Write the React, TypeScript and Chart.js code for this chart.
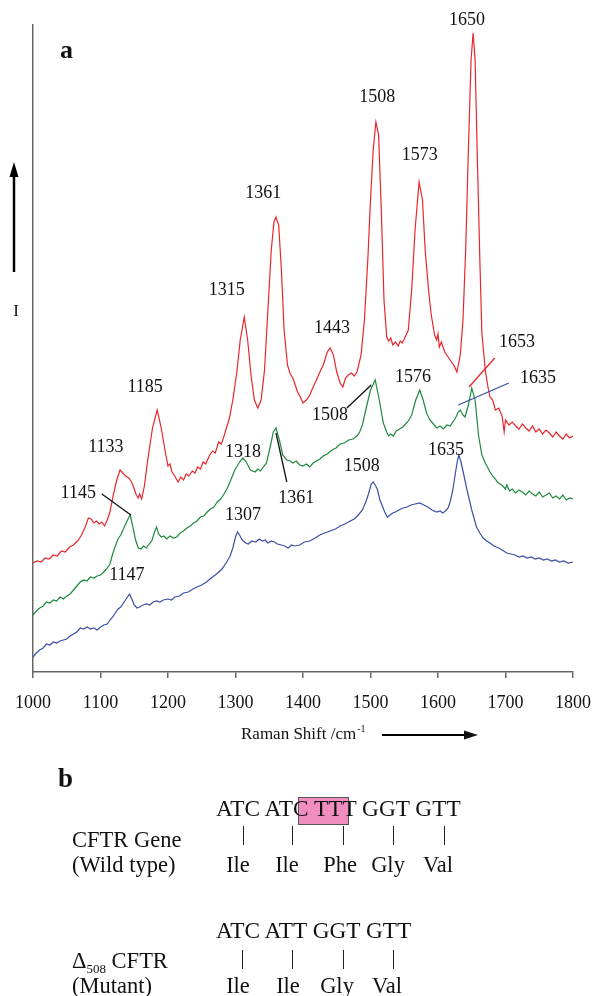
import React, { useEffect, useRef } from "react";
import { Chart, registerables } from "chart.js";

Chart.register(...registerables);

const FONT = '"Liberation Serif", "Times New Roman", serif';

const xTicks = [1000, 1100, 1200, 1300, 1400, 1500, 1600, 1700, 1800];

const redWave = [1000, 1006, 1012, 1018, 1024, 1030, 1036, 1042, 1048, 1054, 1060, 1066, 1072, 1078, 1082, 1086, 1090, 1094, 1098, 1102, 1106, 1110, 1114, 1118, 1124, 1129, 1133, 1137, 1142, 1146, 1150, 1153, 1156, 1158, 1161, 1165, 1170, 1177, 1184, 1190, 1196, 1200, 1203, 1206, 1210, 1215, 1219, 1223, 1227, 1231, 1236, 1240, 1244, 1248, 1252, 1256, 1261, 1266, 1270, 1275, 1279, 1283, 1287, 1291, 1296, 1302, 1307, 1313, 1318, 1323, 1328, 1333, 1338, 1343, 1348, 1353, 1357, 1360, 1364, 1368, 1372, 1377, 1381, 1385, 1389, 1392, 1396, 1400, 1405, 1410, 1415, 1420, 1425, 1430, 1436, 1440, 1445, 1450, 1455, 1459, 1463, 1467, 1472, 1476, 1480, 1486, 1491, 1496, 1500, 1504, 1508, 1512, 1516, 1520, 1524, 1527, 1530, 1533, 1537, 1541, 1544, 1547, 1550, 1556, 1561, 1566, 1572, 1577, 1581, 1586, 1590, 1595, 1598, 1600, 1602, 1605, 1610, 1614, 1618, 1624, 1628, 1633, 1637, 1641, 1645, 1649, 1652, 1655, 1658, 1662, 1665, 1670, 1674, 1677, 1681, 1685, 1690, 1695, 1698, 1700, 1705, 1710, 1715, 1720, 1725, 1730, 1735, 1740, 1745, 1750, 1755, 1760, 1765, 1770, 1775, 1780, 1785, 1790, 1795, 1800];
const redInt = [109, 111, 110, 114, 113, 117, 116, 121, 120, 125, 127, 131, 137, 146, 154, 153, 149, 151, 148, 150, 146, 152, 160, 174, 192, 202, 199, 196, 194, 190, 183, 177, 174, 178, 173, 186, 212, 244, 262, 244, 220, 206, 208, 200, 196, 190, 195, 192, 198, 196, 201, 199, 205, 203, 210, 208, 216, 221, 219, 230, 228, 236, 245, 254, 272, 300, 332, 355, 332, 297, 272, 264, 272, 302, 362, 422, 450, 455, 447, 402, 342, 307, 298, 294, 286, 280, 275, 269, 272, 277, 285, 292, 300, 307, 320, 324, 317, 300, 289, 285, 294, 297, 299, 296, 300, 317, 352, 412, 472, 522, 550, 537, 462, 372, 335, 331, 334, 327, 330, 326, 331, 329, 333, 342, 382, 442, 490, 472, 422, 382, 357, 337, 332, 338, 325, 330, 320, 316, 312, 306, 300, 317, 352, 422, 522, 612, 639, 612, 522, 412, 339, 302, 285, 275, 272, 262, 264, 256, 240, 252, 247, 250, 246, 243, 248, 244, 241, 246, 240, 243, 238, 242, 239, 235, 240, 236, 233, 238, 234, 236];

const greenWave = [1000, 1005, 1010, 1015, 1020, 1025, 1030, 1035, 1040, 1045, 1050, 1055, 1060, 1065, 1070, 1075, 1080, 1085, 1090, 1095, 1100, 1105, 1110, 1114, 1118, 1122, 1126, 1130, 1136, 1140, 1144, 1148, 1152, 1156, 1160, 1164, 1168, 1172, 1176, 1180, 1183, 1186, 1190, 1194, 1198, 1203, 1208, 1213, 1218, 1223, 1228, 1233, 1238, 1243, 1248, 1253, 1258, 1263, 1268, 1273, 1278, 1283, 1288, 1293, 1299, 1306, 1311, 1316, 1322, 1329, 1333, 1337, 1341, 1346, 1352, 1356, 1360, 1365, 1370, 1376, 1381, 1385, 1390, 1395, 1400, 1405, 1410, 1415, 1420, 1425, 1430, 1436, 1443, 1449, 1455, 1461, 1468, 1474, 1480, 1484, 1488, 1494, 1500, 1507, 1513, 1519, 1524, 1527, 1530, 1534, 1538, 1543, 1548, 1552, 1556, 1561, 1567, 1573, 1578, 1583, 1588, 1592, 1598, 1603, 1608, 1613, 1618, 1622, 1626, 1630, 1633, 1637, 1640, 1645, 1650, 1655, 1660, 1665, 1670, 1674, 1677, 1681, 1685, 1688, 1692, 1696, 1700, 1702, 1706, 1710, 1715, 1720, 1725, 1730, 1735, 1740, 1745, 1750, 1755, 1760, 1765, 1770, 1775, 1780, 1785, 1790, 1795, 1800];
const greenInt = [57, 61, 64, 66, 70, 69, 72, 71, 75, 73, 76, 78, 82, 86, 90, 92, 91, 95, 94, 96, 97, 100, 104, 108, 118, 126, 133, 137, 146, 152, 157, 145, 132, 124, 123, 126, 124, 128, 131, 140, 145, 138, 135, 136, 133, 136, 134, 135, 139, 141, 144, 146, 149, 151, 155, 156, 160, 163, 165, 170, 173, 178, 184, 192, 202, 210, 214, 210, 202, 200, 203, 201, 205, 209, 227, 240, 244, 232, 217, 212, 211, 209, 211, 207, 206, 208, 205, 209, 211, 213, 216, 218, 222, 224, 228, 229, 232, 233, 236, 240, 247, 265, 282, 292, 272, 249, 240, 236, 238, 236, 241, 243, 245, 248, 251, 257, 272, 282, 272, 259, 252, 249, 244, 246, 243, 247, 246, 250, 254, 260, 262, 257, 255, 267, 284, 272, 237, 217, 209, 204, 200, 196, 193, 190, 188, 186, 183, 187, 181, 183, 179, 182, 180, 177, 181, 178, 176, 180, 175, 177, 179, 174, 176, 173, 177, 172, 174, 173];

const blueWave = [1000, 1005, 1010, 1015, 1020, 1025, 1030, 1035, 1040, 1045, 1050, 1055, 1060, 1065, 1070, 1075, 1080, 1085, 1090, 1095, 1100, 1105, 1110, 1114, 1118, 1122, 1126, 1130, 1135, 1139, 1143, 1147, 1150, 1154, 1158, 1163, 1168, 1173, 1178, 1183, 1188, 1193, 1200, 1205, 1210, 1217, 1223, 1230, 1237, 1243, 1250, 1257, 1264, 1272, 1280, 1287, 1292, 1296, 1300, 1303, 1306, 1310, 1315, 1319, 1324, 1330, 1335, 1340, 1344, 1348, 1353, 1358, 1362, 1368, 1373, 1378, 1383, 1388, 1395, 1402, 1410, 1418, 1425, 1432, 1440, 1448, 1455, 1462, 1470, 1476, 1482, 1488, 1493, 1497, 1501, 1504, 1507, 1510, 1514, 1517, 1521, 1525, 1529, 1533, 1537, 1542, 1548, 1554, 1560, 1566, 1573, 1579, 1585, 1591, 1598, 1603, 1607, 1611, 1615, 1618, 1622, 1626, 1629, 1631, 1634, 1637, 1643, 1650, 1657, 1662, 1667, 1672, 1677, 1683, 1690, 1695, 1702, 1708, 1714, 1720, 1726, 1732, 1738, 1744, 1750, 1756, 1762, 1768, 1774, 1780, 1786, 1793, 1800];
const blueInt = [15, 19, 22, 24, 28, 27, 30, 29, 31, 32, 33, 36, 38, 40, 44, 43, 45, 43, 44, 42, 45, 47, 48, 52, 55, 59, 63, 65, 70, 74, 78, 72, 67, 64, 65, 67, 68, 67, 70, 71, 70, 72, 73, 72, 75, 76, 79, 80, 83, 85, 87, 90, 94, 98, 103, 110, 116, 124, 135, 140, 137, 132, 129, 128, 131, 130, 133, 131, 132, 129, 131, 130, 128, 127, 126, 124, 127, 126, 127, 130, 131, 134, 137, 139, 141, 143, 146, 148, 151, 153, 157, 162, 170, 178, 188, 190, 187, 183, 172, 167, 160, 155, 157, 159, 160, 162, 164, 165, 167, 168, 169, 167, 165, 162, 160, 161, 159, 161, 164, 170, 182, 200, 212, 217, 210, 201, 182, 162, 145, 139, 134, 131, 129, 126, 124, 122, 119, 118, 117, 115, 116, 114, 115, 113, 114, 112, 113, 111, 112, 110, 111, 109, 110];

// peak labels (text, wavenumber, intensity)
const peakText = ["1650", "1508", "1573", "1361", "1315", "1443", "1653", "1185", "1133", "1145", "1318", "1361", "1508", "1576", "1635", "1508", "1635", "1307", "1147"];
const peakX = [1643, 1510, 1573, 1341, 1287, 1443, 1717, 1166, 1108, 1067, 1311, 1390, 1440, 1563, 1748, 1487, 1612, 1311, 1139];
const peakY = [652, 575, 517, 479, 382, 344, 330, 285, 225, 179, 220, 174, 257, 295, 294, 206, 222, 157, 97];

// leader lines (x1, y1, x2, y2 in data units)
const leadX1 = [1102, 1360, 1465, 1646, 1630];
const leadY1 = [178, 239, 264, 285, 267];
const leadX2 = [1145, 1376, 1501, 1684, 1705];
const leadY2 = [157, 190, 287, 314, 289];
const leadColor = ["#111", "#111", "#111", "#e8262c", "#3b4fa8"];

const RED = "#e8262c";
const GREEN = "#1f8a3e";
const BLUE = "#3b4fa8";

const annotPlugin = {
  id: "annot",
  afterDraw(chart: any) {
    const { ctx, chartArea } = chart;
    const xs = chart.scales.x;
    const ys = chart.scales.y;
    ctx.save();
    ctx.lineWidth = 1.3;
    for (let i = 0; i < leadX1.length; i++) {
      ctx.strokeStyle = leadColor[i];
      ctx.beginPath();
      ctx.moveTo(xs.getPixelForValue(leadX1[i]), ys.getPixelForValue(leadY1[i]));
      ctx.lineTo(xs.getPixelForValue(leadX2[i]), ys.getPixelForValue(leadY2[i]));
      ctx.stroke();
    }
    ctx.fillStyle = "#111";
    ctx.font = `18px ${FONT}`;
    ctx.textAlign = "center";
    ctx.textBaseline = "middle";
    for (let i = 0; i < peakText.length; i++) {
      ctx.fillText(peakText[i], xs.getPixelForValue(peakX[i]), ys.getPixelForValue(peakY[i]));
    }
    ctx.font = `bold 26px ${FONT}`;
    ctx.textAlign = "left";
    ctx.fillText("a", chartArea.left + 27, chartArea.top + 26);

    const ax = chartArea.left - 19;
    ctx.strokeStyle = "#000";
    ctx.fillStyle = "#000";
    ctx.lineWidth = 2.5;
    ctx.beginPath();
    ctx.moveTo(ax, 272);
    ctx.lineTo(ax, 174);
    ctx.stroke();
    ctx.beginPath();
    ctx.moveTo(ax, 162);
    ctx.lineTo(ax - 4.5, 177);
    ctx.lineTo(ax + 4.5, 177);
    ctx.closePath();
    ctx.fill();
    ctx.font = `17px ${FONT}`;
    ctx.textAlign = "center";
    ctx.fillStyle = "#111";
    ctx.fillText("I", ax + 2, 312);

    const ty = 735;
    ctx.textAlign = "left";
    ctx.font = `17px ${FONT}`;
    const main = "Raman Shift /cm";
    const tx = 241;
    ctx.fillText(main, tx, ty);
    const w = ctx.measureText(main).width;
    ctx.font = `10px ${FONT}`;
    ctx.fillText("-1", tx + w + 1, ty - 6);
    ctx.lineWidth = 2.2;
    ctx.beginPath();
    ctx.moveTo(382, ty);
    ctx.lineTo(466, ty);
    ctx.stroke();
    ctx.beginPath();
    ctx.moveTo(478, ty);
    ctx.lineTo(464, ty - 4.5);
    ctx.lineTo(464, ty + 4.5);
    ctx.closePath();
    ctx.fill();
    ctx.restore();
  },
};

const mkPoints = (xsArr: number[], ysArr: number[]) => xsArr.map((x, i) => ({ x, y: ysArr[i] }));

function SpectrumChart() {
  const ref = useRef<HTMLCanvasElement | null>(null);
  useEffect(() => {
    if (!ref.current) return;
    const ds = (label: string, w: number[], v: number[], color: string) => ({
      label,
      data: mkPoints(w, v),
      borderColor: color,
      borderWidth: 1.2,
      pointRadius: 0,
      tension: 0,
      fill: false,
    });
    const chart = new Chart(ref.current, {
      type: "line",
      data: {
        datasets: [ds("red", redWave, redInt, RED), ds("green", greenWave, greenInt, GREEN), ds("blue", blueWave, blueInt, BLUE)],
      },
      options: {
        responsive: false,
        animation: false,
        events: [],
        layout: { padding: { left: 0, right: 22, top: 25, bottom: 284 } },
        plugins: { legend: { display: false }, tooltip: { enabled: false }, title: { display: false } },
        scales: {
          x: {
            type: "linear",
            min: 1000,
            max: 1800,
            afterBuildTicks: (scale: any) => {
              scale.ticks = xTicks.map((v) => ({ value: v }));
            },
            afterFit: (scale: any) => {
              scale.height = 40;
              scale.paddingLeft = 0;
              scale.paddingRight = 0;
            },
            ticks: { color: "#111", font: { family: FONT, size: 18 }, padding: 14, maxRotation: 0, autoSkip: false, callback: (v: any) => String(v) },
            grid: { drawOnChartArea: false, drawTicks: true, tickLength: 6, color: "#666", lineWidth: 1.5 },
            border: { display: true, color: "#666", width: 1.5 },
          },
          y: {
            type: "linear",
            min: 0,
            max: 647,
            afterFit: (scale: any) => {
              scale.width = 33;
            },
            ticks: { display: false },
            grid: { drawOnChartArea: false, drawTicks: false },
            border: { display: true, color: "#666", width: 1.5 },
          },
        },
      },
      plugins: [annotPlugin],
    });
    return () => chart.destroy();
  }, []);
  return <canvas ref={ref} width={595} height={996} style={{ position: "absolute", left: 0, top: 0 }} />;
}

const txt: React.CSSProperties = {
  position: "absolute",
  fontFamily: FONT,
  fontSize: 22.5,
  lineHeight: "22px",
  color: "#111",
  whiteSpace: "pre",
  margin: 0,
};

const bar = (x: number, top: number): React.CSSProperties => ({
  position: "absolute",
  left: x,
  top,
  width: 1.3,
  height: 19,
  background: "#222",
});

const row1Codons = "ATC ATC TTT GGT GTT";
const row1Amino = ["Ile", "Ile", "Phe", "Gly", "Val"];
const row1AminoX = [238, 287, 340, 388, 438];
const row1BarX = [243, 292, 343, 393, 444];
const row2Codons = "ATC ATT GGT GTT";
const row2Amino = ["Ile", "Ile", "Gly", "Val"];
const row2AminoX = [238, 288, 337, 387];
const row2BarX = [242, 292, 343, 393];

function PanelB() {
  const center = (cx: number): React.CSSProperties => ({ left: cx - 30, width: 60, textAlign: "center" });
  return (
    <>
      <div style={{ ...txt, left: 58, top: 765, fontSize: 27, lineHeight: "27px", fontWeight: "bold" }}>b</div>
      <div style={{ position: "absolute", left: 298, top: 797, width: 51, height: 28, background: "#f28dbf", border: "1px solid #555", boxSizing: "border-box" }} />
      <div style={{ ...txt, left: 216, top: 797, fontSize: 23.3 }}>{row1Codons}</div>
      {row1BarX.map((x, i) => (
        <div key={"b1" + i} style={bar(x, 826)} />
      ))}
      <div style={{ ...txt, left: 72, top: 829 }}>CFTR Gene</div>
      <div style={{ ...txt, left: 72, top: 854 }}>(Wild type)</div>
      {row1Amino.map((a, i) => (
        <div key={"a1" + i} style={{ ...txt, ...center(row1AminoX[i]), top: 854 }}>{a}</div>
      ))}
      <div style={{ ...txt, left: 216, top: 919, fontSize: 23.3 }}>{row2Codons}</div>
      {row2BarX.map((x, i) => (
        <div key={"b2" + i} style={bar(x, 950)} />
      ))}
      <div style={{ ...txt, left: 72, top: 950 }}>
        Δ<sub style={{ fontSize: 13, verticalAlign: "-5px", lineHeight: 0 }}>508</sub> CFTR
      </div>
      <div style={{ ...txt, left: 72, top: 975 }}>(Mutant)</div>
      {row2Amino.map((a, i) => (
        <div key={"a2" + i} style={{ ...txt, ...center(row2AminoX[i]), top: 975 }}>{a}</div>
      ))}
    </>
  );
}

export default function App() {
  return (
    <div style={{ position: "absolute", left: 0, top: 0, width: 595, height: 996, background: "#fff", overflow: "hidden" }}>
      <SpectrumChart />
      <PanelB />
    </div>
  );
}
